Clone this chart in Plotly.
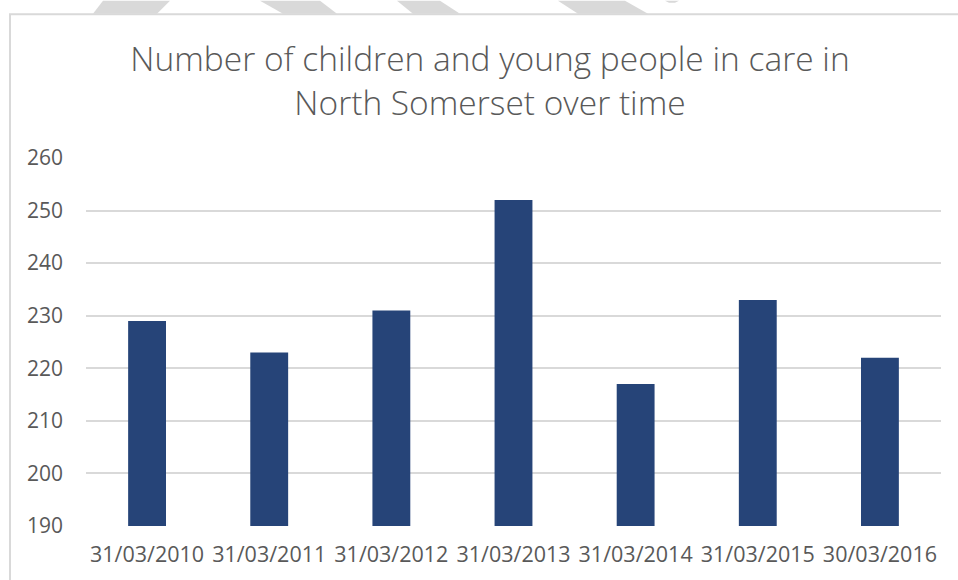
import plotly.graph_objects as go

categories = ["31/03/2010", "31/03/2011", "31/03/2012", "31/03/2013",
              "31/03/2014", "31/03/2015", "30/03/2016"]
children_in_care = [229, 223, 231, 252, 217, 233, 222]
y_ticks = [190, 200, 210, 220, 230, 240, 250, 260]

W, H = 958, 580
ML, MR, MT, MB = 86, 17, 158, 52
PW, PH = W - ML - MR, H - MT - MB


def px(x):
    return (x - ML) / PW


def py(y):
    return 1 - (y - MT) / PH


fig = go.Figure()
fig.add_trace(go.Bar(
    x=categories, y=children_in_care,
    marker=dict(color="#264478", line=dict(width=0)),
    hoverinfo="x+y",
))

shapes = []
# chart border
shapes.append(dict(type="rect", xref="paper", yref="paper",
                   x0=px(10), x1=px(962), y0=py(13.5), y1=py(600),
                   line=dict(color="#d9d9d9", width=2), fillcolor="rgba(0,0,0,0)",
                   layer="below"))
# watermark fragments above the chart border
wm = [
    [(103, 0), (170, 0), (157, 13), (93, 13)],
    [(260, 0), (320, 0), (337, 13), (283, 13)],
    [(397, 0), (440, 0), (460, 13), (413, 13)],
    [(558, 0), (625, 0), (648, 13), (578, 13)],
    [(665, 0), (679, 0), (675, 2), (669, 2)],
]
for poly in wm:
    path = "M " + " L ".join(f"{px(a):.5f},{py(b):.5f}" for a, b in poly) + " Z"
    shapes.append(dict(type="path", xref="paper", yref="paper", path=path,
                       fillcolor="#d9d9d9", line=dict(width=0), layer="below"))

fig.update_layout(
    width=W, height=H,
    margin=dict(l=ML, r=MR, t=MT, b=MB, pad=0),
    paper_bgcolor="white", plot_bgcolor="white",
    bargap=0.69,
    showlegend=False,
    shapes=shapes,
    font=dict(family="Open Sans", color="#595959"),
    title=dict(
        text="Number of children and young people in care in<br>North Somerset over time",
        x=490 / W, xref="container", xanchor="center",
        y=1 - 71 / H, yref="container", yanchor="middle",
        font=dict(family="Open Sans", size=33.5, color="#595959", weight=300),
    ),
    xaxis=dict(
        showgrid=False, showline=False, zeroline=False, ticks="",
        tickfont=dict(size=21.5, color="#595959"),
        ticklabelstandoff=13,
    ),
    yaxis=dict(
        range=[190, 260], tickvals=y_ticks,
        showgrid=True, gridcolor="#d9d9d9", gridwidth=2,
        showline=False, zeroline=False, ticks="",
        tickfont=dict(size=21, color="#595959"),
        ticklabelstandoff=22,
    ),
)

fig.write_html("out.html")
